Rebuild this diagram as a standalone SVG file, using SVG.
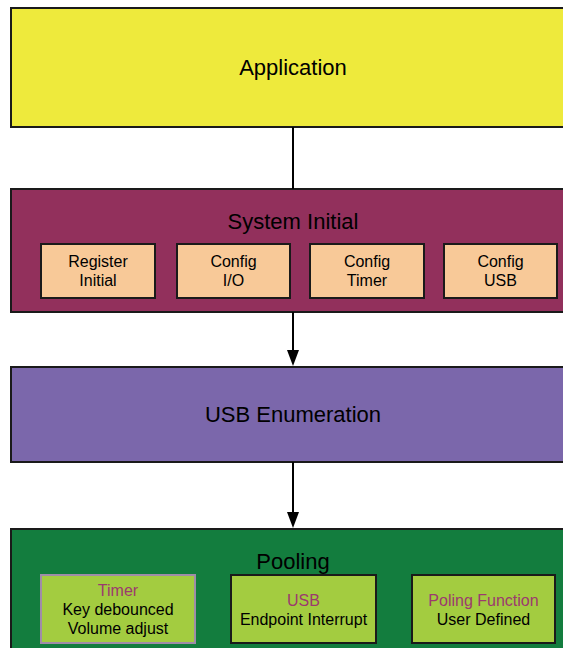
<svg xmlns="http://www.w3.org/2000/svg" width="563" height="648" viewBox="0 0 563 648">
  <style>
    .layer { stroke: #1a1a1a; stroke-width: 2; }
    .sub { stroke: #1a1a1a; stroke-width: 2; }
    .title { font-family: "Liberation Sans", Arial, sans-serif; font-size: 22px; fill: #000; text-anchor: middle; }
    .label { font-family: "Liberation Sans", Arial, sans-serif; font-size: 16px; fill: #000; text-anchor: middle; }
    .accent { fill: #9c3a6e; }
    .link { stroke: #000; stroke-width: 2; fill: none; }
    .head { fill: #000; }
  </style>
  <rect width="563" height="648" fill="#fff"/>

  <g id="application">
    <rect class="layer" x="11" y="8" width="562" height="119" fill="#eeea3c"/>
    <text class="title" x="293" y="75">Application</text>
  </g>

  <g id="system-initial">
    <rect class="layer" x="11" y="189" width="562" height="123" fill="#92305c"/>
    <text class="title" x="293" y="229">System Initial</text>
    <g id="register-initial">
      <rect class="sub" x="41" y="244" width="114" height="54" fill="#f8c998"/>
      <text class="label" x="98" y="267">Register</text>
      <text class="label" x="98" y="286">Initial</text>
    </g>
    <g id="config-io">
      <rect class="sub" x="177" y="244" width="113" height="54" fill="#f8c998"/>
      <text class="label" x="233.5" y="267">Config</text>
      <text class="label" x="233.5" y="286">I/O</text>
    </g>
    <g id="config-timer">
      <rect class="sub" x="310" y="244" width="114" height="54" fill="#f8c998"/>
      <text class="label" x="367" y="267">Config</text>
      <text class="label" x="367" y="286">Timer</text>
    </g>
    <g id="config-usb">
      <rect class="sub" x="444" y="244" width="113" height="54" fill="#f8c998"/>
      <text class="label" x="500.5" y="267">Config</text>
      <text class="label" x="500.5" y="286">USB</text>
    </g>
  </g>

  <g id="usb-enumeration">
    <rect class="layer" x="11" y="367" width="562" height="95" fill="#7b67ab"/>
    <text class="title" x="293" y="422">USB Enumeration</text>
  </g>

  <g id="pooling">
    <rect class="layer" x="11" y="529" width="562" height="130" fill="#137d3e"/>
    <text class="title" x="293" y="569">Pooling</text>
    <g id="timer-task">
      <rect x="41" y="575" width="154" height="68" fill="#a3cc40" stroke="#a08ca8" stroke-width="2"/>
      <text class="label accent" x="118" y="596">Timer</text>
      <text class="label" x="118" y="615">Key debounced</text>
      <text class="label" x="118" y="634">Volume adjust</text>
    </g>
    <g id="usb-task">
      <rect class="sub" x="231" y="575" width="145" height="68" fill="#a3cc40"/>
      <text class="label accent" x="303.5" y="606">USB</text>
      <text class="label" x="303.5" y="625">Endpoint Interrupt</text>
    </g>
    <g id="poling-task">
      <rect class="sub" x="412" y="575" width="143" height="68" fill="#a3cc40"/>
      <text class="label accent" x="483.5" y="606">Poling Function</text>
      <text class="label" x="483.5" y="625">User Defined</text>
    </g>
  </g>

  <g id="connectors">
    <line class="link" x1="293" y1="127" x2="293" y2="189"/>
    <line class="link" x1="293" y1="312" x2="293" y2="352"/>
    <path class="head" d="M287,350 L299,350 L293,366 Z"/>
    <line class="link" x1="293" y1="462" x2="293" y2="514"/>
    <path class="head" d="M287,512 L299,512 L293,528 Z"/>
  </g>
</svg>
